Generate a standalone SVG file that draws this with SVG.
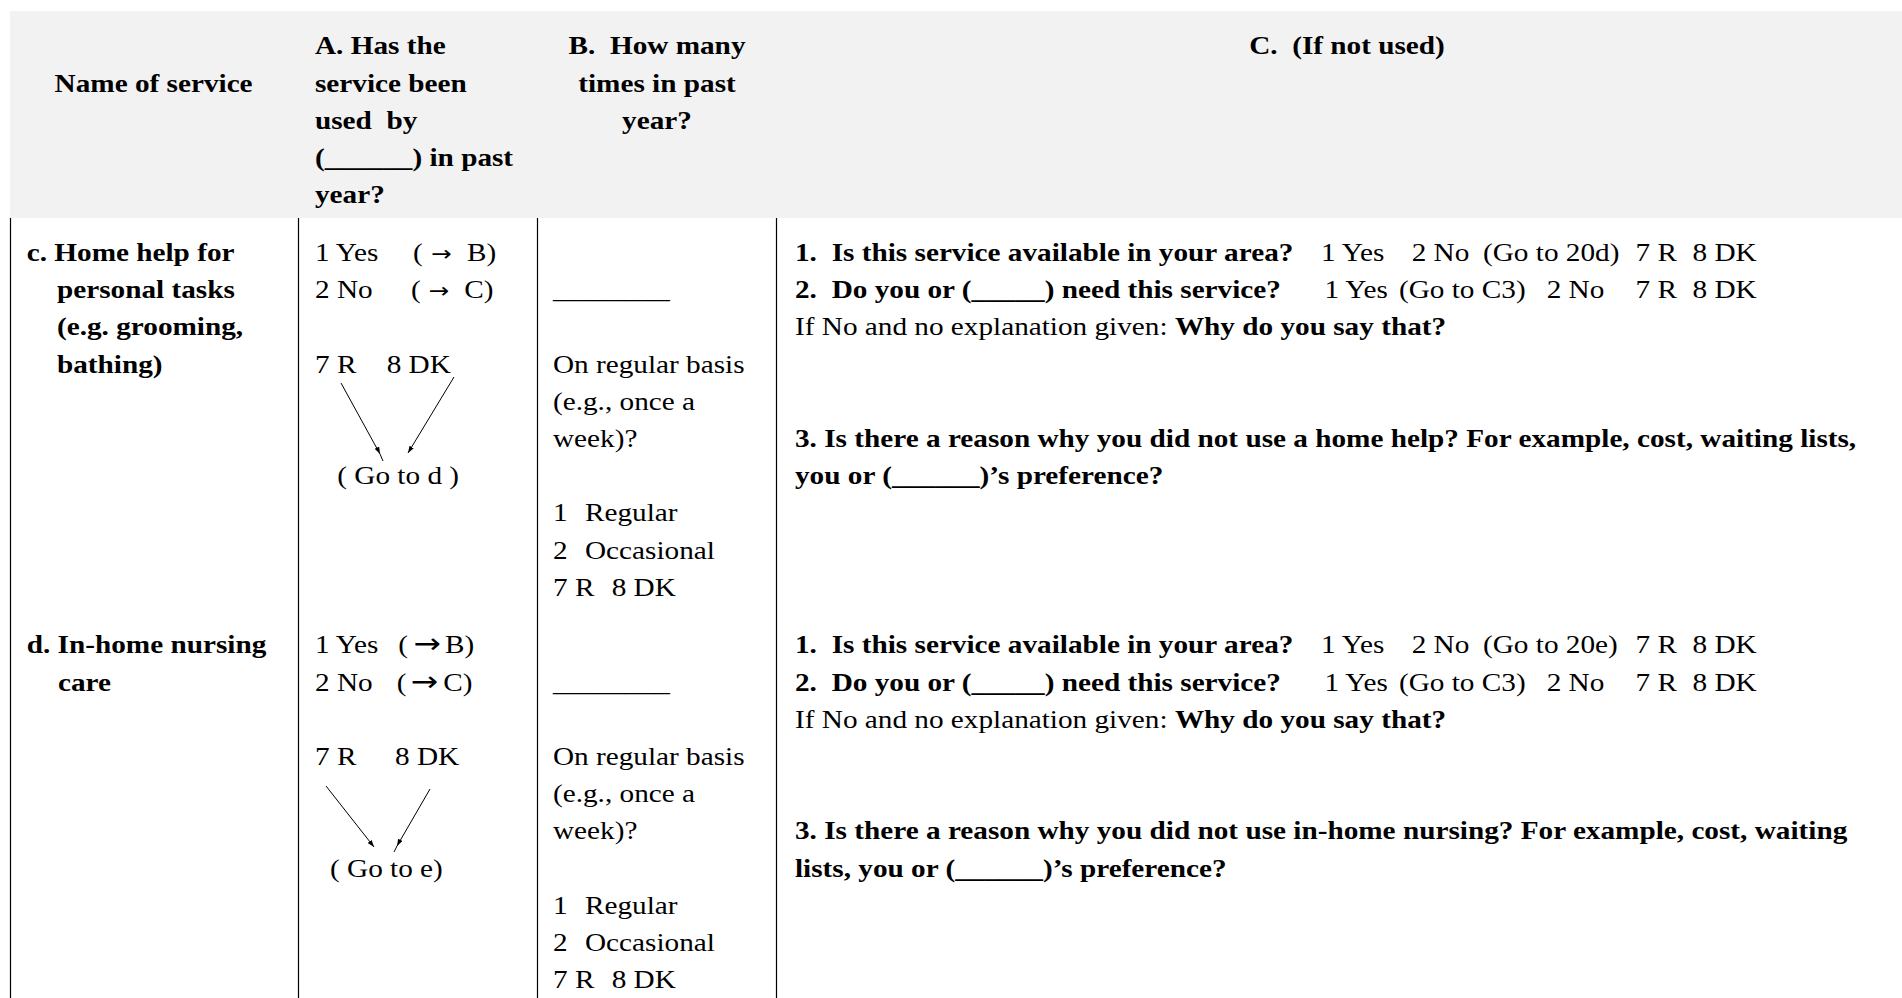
<svg xmlns="http://www.w3.org/2000/svg" width="1902" height="998" viewBox="0 0 1902 998">
<style>
.t{font-family:"Liberation Serif","Times New Roman",serif;font-size:25px;fill:#000}
.b{font-weight:bold}
.m{text-anchor:middle}
.ar{font-family:"DejaVu Sans","Liberation Sans",sans-serif}
.ar1{font-size:21px}
.ar2{font-size:28px}
.grid{stroke:#000;stroke-width:1.2;fill:none}
.con{stroke:#000;stroke-width:1;fill:none}
</style>
<defs>
<marker id="ah" markerUnits="userSpaceOnUse" markerWidth="8" markerHeight="6" refX="7" refY="2.5" orient="auto">
<path d="M0,0 L7,2.5 L0,5 z" fill="#000"/>
</marker>
</defs>
<rect width="1902" height="998" fill="#fff"/>
<rect x="10" y="11" width="1892" height="207" fill="#f2f2f2"/>
<g id="grid" class="grid">
<line x1="10.5" y1="218" x2="10.5" y2="998"/>
<line x1="298.5" y1="218" x2="298.5" y2="998"/>
<line x1="537.5" y1="218" x2="537.5" y2="998"/>
<line x1="776.5" y1="218" x2="776.5" y2="998"/>
</g>
<g id="hdr-name" class="t b" transform="scale(1.17 1)">
<text x="46.67" y="91.7">Name of service</text>
</g>
<g id="hdr-a" class="t b" transform="scale(1.17 1)">
<text x="269.23" y="54.3">A. Has the</text>
<text x="269.23" y="91.6">service been</text>
<text x="269.23" y="128.8" xml:space="preserve">used  by</text>
<text x="269.23" y="166">(______) in past</text>
<text x="269.23" y="203.2">year?</text>
</g>
<g id="hdr-b" class="t b m" transform="scale(1.17 1)">
<text x="561.54" y="54.3" xml:space="preserve">B.  How many</text>
<text x="561.54" y="91.6">times in past</text>
<text x="561.54" y="128.8">year?</text>
</g>
<g id="hdr-c" class="t b m" transform="scale(1.17 1)">
<text x="1151.28" y="54.3" xml:space="preserve">C.  (If not used)</text>
</g>
<g id="c-name" class="t b" transform="scale(1.17 1)">
<text x="22.82" y="261">c. Home help for</text>
<text x="48.7" y="298.2">personal tasks</text>
<text x="48.7" y="335.4">(e.g. grooming,</text>
<text x="48.7" y="372.6">bathing)</text>
</g>
<g id="c-a" class="t" transform="scale(1.17 1)">
<text y="261"><tspan x="269.23">1 Yes</tspan><tspan x="353">(</tspan><tspan class="ar ar1" x="368.5">→</tspan><tspan x="399.15">B)</tspan></text>
<text y="298.2"><tspan x="269.23">2 No</tspan><tspan x="351.28">(</tspan><tspan class="ar ar1" x="366.5">→</tspan><tspan x="396.84">C)</tspan></text>
<text y="372.6"><tspan x="269.23">7 R</tspan><tspan x="330.5">8 DK</tspan></text>
<text x="288.29" y="484.2" xml:space="preserve">( Go to d )</text>
</g>
<g id="c-b" class="t" transform="scale(1.17 1)">
<text x="472.65" y="298.2">________</text>
<text x="472.65" y="372.6">On regular basis</text>
<text x="472.65" y="409.8">(e.g., once a</text>
<text x="472.65" y="447">week)?</text>
<text y="521.4"><tspan x="472.65">1</tspan><tspan x="500">Regular</tspan></text>
<text y="558.6"><tspan x="472.65">2</tspan><tspan x="500">Occasional</tspan></text>
<text y="595.8"><tspan x="472.65">7 R</tspan><tspan x="522.8">8 DK</tspan></text>
</g>
<g id="c-c" class="t" transform="scale(1.17 1)">
<text y="261"><tspan class="b" x="679.49">1.</tspan><tspan class="b" x="710.85">Is this service available in your area?</tspan><tspan x="1129.06">1 Yes</tspan><tspan x="1206.58">2 No</tspan><tspan x="1267.52">(Go to 20d)</tspan><tspan x="1397.86">7 R</tspan><tspan x="1446.58">8 DK</tspan></text>
<text y="298.2"><tspan class="b" x="679.49">2.</tspan><tspan class="b" x="710.85">Do you or (_____) need this service?</tspan><tspan x="1132.05">1 Yes</tspan><tspan x="1195.73">(Go to C3)</tspan><tspan x="1321.97">2 No</tspan><tspan x="1397.86">7 R</tspan><tspan x="1446.58">8 DK</tspan></text>
<text x="679.49" y="335.4">If No and no explanation given: <tspan class="b">Why do you say that?</tspan></text>
<text class="b" x="679.49" y="447">3. Is there a reason why you did not use a home help? For example, cost, waiting lists,</text>
<text class="b" x="679.49" y="484.2">you or (______)’s preference?</text>
</g>
<g id="d-name" class="t b" transform="scale(1.17 1)">
<text x="22.82" y="653.5">d. In-home nursing</text>
<text x="49.57" y="690.7">care</text>
</g>
<g id="d-a" class="t" transform="scale(1.17 1)">
<text y="653.5"><tspan x="269.23">1 Yes</tspan><tspan x="340.43">(</tspan><tspan class="ar ar2" x="353.5">→</tspan><tspan x="380.34">B)</tspan></text>
<text y="690.7"><tspan x="269.23">2 No</tspan><tspan x="339.06">(</tspan><tspan class="ar ar2" x="351">→</tspan><tspan x="378.89">C)</tspan></text>
<text y="765.1"><tspan x="269.23">7 R</tspan><tspan x="337.61">8 DK</tspan></text>
<text x="282.05" y="876.7" xml:space="preserve">( Go to e)</text>
</g>
<g id="d-b" class="t" transform="scale(1.17 1)">
<text x="472.65" y="690.7">________</text>
<text x="472.65" y="765.1">On regular basis</text>
<text x="472.65" y="802.3">(e.g., once a</text>
<text x="472.65" y="839.5">week)?</text>
<text y="913.9"><tspan x="472.65">1</tspan><tspan x="500">Regular</tspan></text>
<text y="951.1"><tspan x="472.65">2</tspan><tspan x="500">Occasional</tspan></text>
<text y="988.3"><tspan x="472.65">7 R</tspan><tspan x="522.8">8 DK</tspan></text>
</g>
<g id="d-c" class="t" transform="scale(1.17 1)">
<text y="653.5"><tspan class="b" x="679.49">1.</tspan><tspan class="b" x="710.85">Is this service available in your area?</tspan><tspan x="1129.06">1 Yes</tspan><tspan x="1206.58">2 No</tspan><tspan x="1267.52">(Go to 20e)</tspan><tspan x="1397.86">7 R</tspan><tspan x="1446.58">8 DK</tspan></text>
<text y="690.7"><tspan class="b" x="679.49">2.</tspan><tspan class="b" x="710.85">Do you or (_____) need this service?</tspan><tspan x="1132.05">1 Yes</tspan><tspan x="1195.73">(Go to C3)</tspan><tspan x="1321.97">2 No</tspan><tspan x="1397.86">7 R</tspan><tspan x="1446.58">8 DK</tspan></text>
<text x="679.49" y="727.9">If No and no explanation given: <tspan class="b">Why do you say that?</tspan></text>
<text class="b" x="679.49" y="839.5">3. Is there a reason why you did not use in-home nursing? For example, cost, waiting</text>
<text class="b" x="679.49" y="876.7">lists, you or (______)’s preference?</text>
</g>
<g id="connectors" class="con">
<path d="M341,383 L380,454 L383,461" marker-mid="url(#ah)"/>
<path d="M454,377 L408,453" marker-end="url(#ah)"/>
<path d="M326,786 L374,847" marker-end="url(#ah)"/>
<path d="M430,789 L397,846 L394,852" marker-mid="url(#ah)"/>
</g>
</svg>
